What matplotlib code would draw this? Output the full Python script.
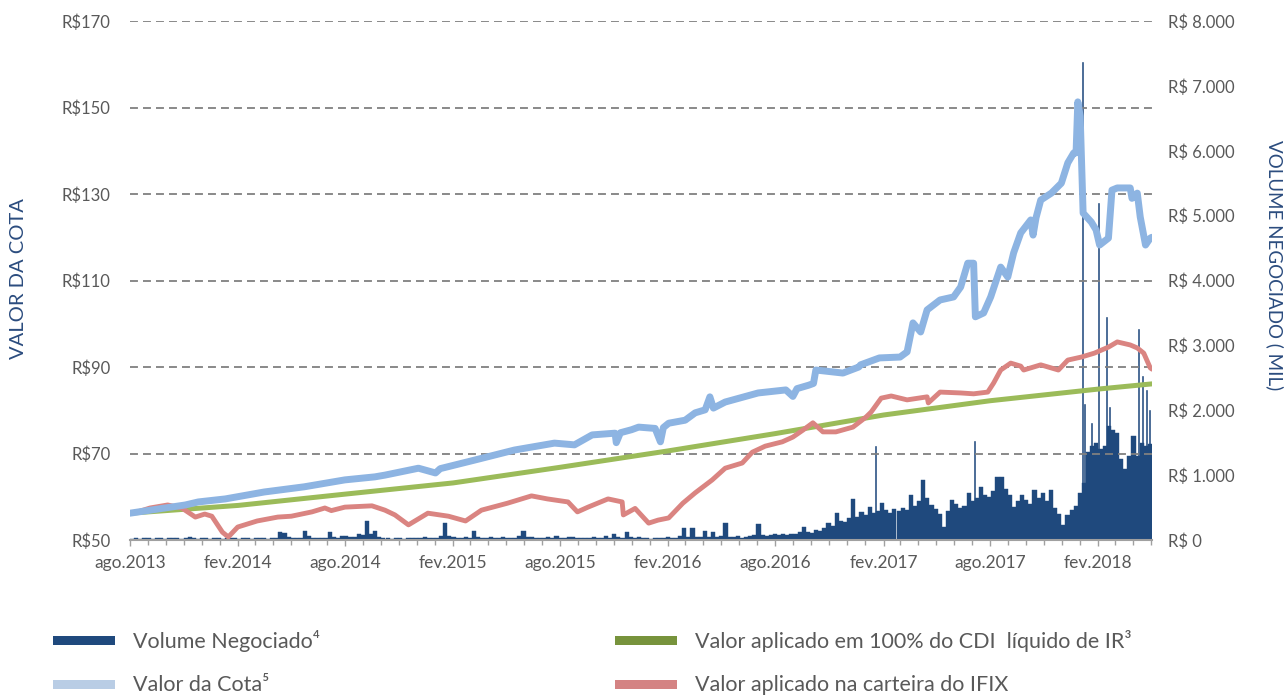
import matplotlib
matplotlib.use('Agg')
import matplotlib.pyplot as plt
import matplotlib.dates as mdates
from matplotlib.patches import Rectangle
import pandas as pd

FONT = ['Lato', 'DejaVu Sans']
plt.rcParams['font.family'] = FONT

# ---------------- data ----------------
cota_dates = ['2013-08-01', '2013-11-03', '2013-11-25', '2014-01-10', '2014-03-17', '2014-05-24',
              '2014-08-01', '2014-09-21', '2014-10-08', '2014-12-04', '2015-01-02', '2015-01-10',
              '2015-03-10', '2015-05-16', '2015-07-23', '2015-08-26', '2015-09-25', '2015-11-03',
              '2015-11-05', '2015-11-12', '2015-12-01', '2015-12-13', '2016-01-10', '2016-01-19',
              '2016-01-24', '2016-02-02', '2016-03-01', '2016-03-18', '2016-04-04', '2016-04-12',
              '2016-04-18', '2016-05-08', '2016-07-03', '2016-08-19', '2016-08-31', '2016-09-07',
              '2016-09-27', '2016-10-05', '2016-10-09', '2016-11-24', '2016-12-21', '2016-12-24',
              '2017-01-25', '2017-03-01', '2017-03-13', '2017-03-23', '2017-04-05', '2017-04-16',
              '2017-05-08', '2017-05-31', '2017-06-12', '2017-06-24', '2017-07-04', '2017-07-07',
              '2017-07-21', '2017-08-02', '2017-08-19', '2017-08-31', '2017-09-10', '2017-09-22',
              '2017-10-09', '2017-10-13', '2017-10-18', '2017-10-26', '2017-11-13', '2017-11-30',
              '2017-12-11', '2017-12-21', '2017-12-25', '2017-12-28', '2018-01-01', '2018-01-06',
              '2018-01-20', '2018-01-28', '2018-02-03', '2018-02-18', '2018-02-24', '2018-03-05',
              '2018-03-27', '2018-03-30', '2018-04-08', '2018-04-13', '2018-04-22', '2018-04-30',
              '2018-05-03']
cota_values = [56.2, 58.1, 58.8, 59.5, 61.1, 62.3,
               63.9, 64.6, 65.0, 66.6, 65.5, 66.5,
               68.5, 70.8, 72.4, 72.0, 74.3, 74.7,
               72.5, 74.8, 75.5, 76.1, 75.8, 72.7,
               76.0, 77.0, 77.7, 79.4, 80.1, 83.1,
               80.5, 81.9, 84.0, 84.7, 83.2, 85.0,
               85.8, 86.2, 89.3, 88.6, 90.0, 90.5,
               92.1, 92.3, 93.5, 100.2, 98.1, 103.2,
               105.5, 106.2, 108.5, 114.0, 114.0, 101.6,
               102.5, 106.2, 113.1, 110.8, 116.4, 121.0,
               124.0, 120.5, 124.5, 128.6, 130.2, 132.5,
               137.2, 139.5, 139.5, 151.3, 148.0, 125.6,
               123.5, 121.7, 118.2, 119.8, 130.9, 131.4,
               131.4, 129.0, 130.2, 124.7, 118.2, 119.8,
               120.0]

ifix_dates = ['2013-08-01', '2013-08-14', '2013-09-04', '2013-10-04', '2013-10-28', '2013-11-20',
              '2013-12-06', '2013-12-18', '2014-01-05', '2014-01-15', '2014-01-31', '2014-03-05',
              '2014-04-09', '2014-05-02', '2014-06-06', '2014-06-28', '2014-07-09', '2014-08-01',
              '2014-09-16', '2014-10-08', '2014-10-25', '2014-11-17', '2014-12-20', '2015-01-24',
              '2015-02-22', '2015-03-21', '2015-05-04', '2015-06-14', '2015-07-11', '2015-08-15',
              '2015-08-31', '2015-09-18', '2015-10-22', '2015-11-15', '2015-11-17', '2015-12-07',
              '2015-12-30', '2016-01-15', '2016-02-02', '2016-02-26', '2016-03-18', '2016-04-16',
              '2016-05-08', '2016-06-06', '2016-06-23', '2016-07-15', '2016-08-13', '2016-08-31',
              '2016-09-17', '2016-10-04', '2016-10-21', '2016-11-12', '2016-12-11', '2017-01-02',
              '2017-01-11', '2017-01-28', '2017-02-14', '2017-03-13', '2017-04-16', '2017-04-18',
              '2017-05-08', '2017-06-12', '2017-07-04', '2017-07-28', '2017-08-07', '2017-08-19',
              '2017-09-05', '2017-09-22', '2017-09-27', '2017-10-26', '2017-11-25', '2017-12-11',
              '2018-01-03', '2018-01-25', '2018-02-18', '2018-03-05', '2018-03-27', '2018-04-08',
              '2018-04-19', '2018-04-30', '2018-05-03']
ifix_values = [56.2, 56.5, 57.4, 58.1, 57.4, 55.3,
               56.0, 55.5, 51.8, 50.7, 53.0, 54.4,
               55.3, 55.5, 56.5, 57.4, 56.8, 57.6,
               57.9, 56.9, 55.8, 53.5, 56.2, 55.5,
               54.4, 56.9, 58.5, 60.2, 59.5, 58.8,
               56.5, 57.6, 59.5, 58.8, 55.8, 57.3,
               53.9, 54.6, 55.1, 58.5, 60.9, 63.9,
               66.6, 67.8, 70.3, 71.7, 72.7, 73.8,
               75.4, 77.1, 75.0, 75.0, 76.1, 78.4,
               79.6, 82.8, 83.3, 82.4, 83.1, 81.7,
               84.2, 84.0, 83.8, 84.2, 86.3, 89.3,
               90.9, 90.2, 89.3, 90.5, 89.3, 91.6,
               92.3, 93.2, 94.6, 95.8, 95.1, 94.4,
               93.2, 89.8, 89.5]

cdi_dates = ['2013-08-01', '2014-02-01', '2014-08-01', '2015-02-01', '2015-08-01', '2016-02-01',
             '2016-08-01', '2017-02-01', '2017-08-01', '2018-02-01', '2018-05-03']
cdi_values = [56.2, 58.0, 60.6, 63.2, 66.8, 70.6, 74.6, 78.9, 82.2, 84.9, 86.1]

vol_first_week = '2013-08-01'
vol_weekly = [
    20, 30, 15, 25, 30, 20, 35, 25, 20, 30,
    25, 35, 20, 30, 40, 25, 20, 30, 25, 20,
    30, 25, 20, 35, 25, 30, 20, 25, 30, 20,
    25, 30, 35, 20, 25, 30, 120, 110, 40, 30,
    25, 35, 140, 60, 30, 25, 35, 30, 120, 40,
    35, 60, 55, 40, 50, 100, 70, 290, 90, 140,
    40, 30, 25, 20, 30, 25, 20, 35, 30, 25,
    30, 40, 25, 35, 30, 60, 260, 60, 40, 30,
    35, 40, 30, 140, 50, 35, 30, 40, 25, 30,
    40, 30, 35, 25, 60, 140, 50, 40, 30, 35,
    25, 40, 30, 60, 35, 30, 40, 50, 30, 25,
    35, 30, 40, 25, 30, 60, 30, 100, 40, 35,
    120, 50, 30, 40, 25, 30, 20, 35, 30, 25,
    40, 30, 25, 60, 180, 40, 180, 50, 40, 140,
    50, 120, 40, 60, 260, 50, 40, 60, 35, 50,
    60, 80, 250, 70, 60, 80, 90, 70, 100, 80,
    90, 100, 120, 200, 130, 110, 150, 140, 180, 260,
    220, 410, 300, 280, 340, 630, 350, 430, 380, 510,
    420, 450, 570, 460, 420, 480, 450, 500, 460, 690,
    520, 600, 920, 650, 540, 480, 400, 200, 450, 620,
    560, 490, 520, 720, 600, 650, 820, 700, 660, 750,
    970, 970, 780, 690, 510, 600, 690, 620, 560, 770,
    640, 720, 600, 770, 490, 400, 230, 380, 460, 520,
    720, 880, 1360, 1450, 1500, 1400, 1450, 1750, 1700, 1650,
    1250, 1100, 1300, 1600, 1300, 1500, 1450, 1480]

spike_dates = ['2017-01-18', '2017-07-05', '2018-01-05', '2018-01-08', '2018-01-20', '2018-02-01',
               '2018-02-15', '2018-02-20', '2018-04-10', '2018-04-17', '2018-04-24', '2018-04-29']
spike_values = [1450, 1530, 7366, 2100, 1800, 5190, 3440, 2050, 3250, 2530, 2310, 2000]

xtick_dates = ['2013-08-01', '2014-02-01', '2014-08-01', '2015-02-01', '2015-08-01', '2016-02-01',
               '2016-08-01', '2017-02-01', '2017-08-01', '2018-02-01']
xtick_labels = ['ago.2013', 'fev.2014', 'ago.2014', 'fev.2015', 'ago.2015', 'fev.2016',
                'ago.2016', 'fev.2017', 'ago.2017', 'fev.2018']
left_ticks = [50, 70, 90, 110, 130, 150, 170]
left_labels = ['R$50', 'R$70', 'R$90', 'R$110', 'R$130', 'R$150', 'R$170']
right_ticks = [0, 1000, 2000, 3000, 4000, 5000, 6000, 7000, 8000]
right_labels = ['R$ 0', 'R$ 1.000', 'R$ 2.000', 'R$ 3.000', 'R$ 4.000', 'R$ 5.000',
                'R$ 6.000', 'R$ 7.000', 'R$ 8.000']
x_start, x_end = '2013-08-01', '2018-05-03'

legend_items = [
    ('Volume Negociado\u2074', '#1F497D'),
    ('Valor da Cota\u2075', '#B9CDE5'),
    ('Valor aplicado em 100% do CDI  líquido de IR\u00b3', '#77933C'),
    ('Valor aplicado na carteira do IFIX', '#D48383'),
]

# ---------------- figure ----------------
W, H = 1286, 700
fig = plt.figure(figsize=(W / 100, H / 100), dpi=100)
ax = fig.add_axes([130 / W, 160 / H, 1022 / W, 519 / H])
ax2 = ax.twinx()
ax.set_zorder(ax2.get_zorder() + 1)
ax.patch.set_visible(False)

TXT = '#595959'
BAR = '#1F497D'

# volume bars (right axis)
week_dates = pd.date_range(vol_first_week, periods=len(vol_weekly), freq='7D')
ax2.bar(week_dates, vol_weekly, width=7, align='edge', color=BAR,
        edgecolor=BAR, linewidth=0.3)
ax2.bar(pd.to_datetime(spike_dates), spike_values, width=2.0, align='center',
        color=BAR, edgecolor=BAR, linewidth=0.4)
ax2.set_ylim(0, 8000)
ax2.set_yticks(right_ticks)
ax2.set_yticklabels(right_labels)
ax2.tick_params(axis='y', length=0, pad=11.5, labelsize=12, labelcolor=TXT)
for s in ax2.spines.values():
    s.set_visible(False)

# lines (left axis)
ax.plot(pd.to_datetime(cdi_dates), cdi_values, color='#9BBB59', lw=3.6,
        solid_capstyle='round', solid_joinstyle='round', zorder=3)
ax.plot(pd.to_datetime(ifix_dates), ifix_values, color='#DA8481', lw=3.5,
        solid_capstyle='round', solid_joinstyle='round', zorder=4)
ax.plot(pd.to_datetime(cota_dates), cota_values, color='#8DB4E2', lw=5.0,
        solid_capstyle='round', solid_joinstyle='round', zorder=5)

ax.set_ylim(50, 170)
ax.set_yticks(left_ticks)
ax.set_yticklabels(left_labels)
ax.tick_params(axis='y', length=0, pad=14, labelsize=12, labelcolor=TXT)
ax.grid(axis='y', color='#808080', linestyle=(0, (4.4, 2.8)), linewidth=1.3, zorder=1)
ax.set_axisbelow(True)

ax.set_xlim(pd.Timestamp(x_start), pd.Timestamp(x_end))
ax.set_xticks(pd.to_datetime(xtick_dates))
ax.set_xticklabels(xtick_labels)
ax.xaxis.set_minor_locator(mdates.MonthLocator())
ax.tick_params(axis='x', which='major', direction='out', length=4.5, width=1.0,
               color='#A0A0A0', labelsize=12.5, labelcolor=TXT, pad=6)
ax.tick_params(axis='x', which='minor', direction='out', length=3.5, width=1.0,
               color='#A0A0A0')
for side in ('top', 'left', 'right'):
    ax.spines[side].set_visible(False)
ax.spines['bottom'].set_color('#A0A0A0')
ax.spines['bottom'].set_linewidth(1.5)
ax.spines['bottom'].set_zorder(6)

# axis titles
TITLE = '#2B4C7E'
fig.text(19 / W, 1 - 279 / H, 'VALOR DA COTA', rotation=90, ha='center', va='center',
         fontsize=14.5, color=TITLE)
fig.text(1275 / W, 1 - 265 / H, 'VOLUME NEGOCIADO ( MIL)', rotation=270, ha='center',
         va='center', fontsize=13.5, color=TITLE)

# legend
pos = [(53, 640), (53, 684), (615, 640), (615, 684)]
for (label, col), (px, py) in zip(legend_items, pos):
    fig.add_artist(Rectangle((px / W, 1 - (py + 4.5) / H), 62 / W, 9 / H,
                             transform=fig.transFigure, facecolor=col, edgecolor='none'))
    fig.text((px + 80) / W, 1 - (py + 1) / H, label, ha='left', va='center',
             fontsize=15.5, color=TXT)

fig.savefig('out.png', dpi=100)
